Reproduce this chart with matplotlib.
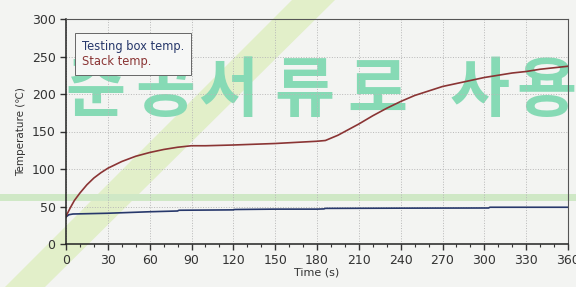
import matplotlib.pyplot as plt
from matplotlib.patches import Polygon, Rectangle
import numpy as np

# data
t_stack = [0, 3, 6, 10, 15, 20, 25, 30, 40, 50, 60, 70, 80, 90, 100, 120, 150, 170, 180, 186,
           195, 200, 210, 220, 230, 240, 250, 260, 270, 280, 290, 300, 310, 320, 330, 340, 350, 360]
stack = [37, 48, 58, 68, 79, 88, 95, 101, 110, 117, 122, 126, 129, 131, 131, 132, 134, 136, 137, 138,
         145, 150, 160, 171, 181, 190, 198, 204, 210, 214, 218, 222, 225, 228, 230, 233, 235, 237]

t_box = [0, 2, 5, 30, 60, 80, 81, 120, 121, 150, 180, 185, 186, 240, 300, 303, 304, 360]
box = [36, 39, 40, 41, 43, 44, 45, 45.5, 46, 46.5, 46.5, 46.8, 47.5, 47.8, 48, 48, 49, 49]

x_ticks = list(range(0, 361, 30))
y_ticks = list(range(0, 301, 50))

stamp = u'준공서류로 사용'

bg = '#f3f4f2'
fig = plt.figure(figsize=(5.76, 2.87), dpi=100, facecolor=bg)

# scan watermark behind the chart
fig.patches.append(Polygon([(5 / 576, 0), (45 / 576, 0), (335 / 576, 1), (292 / 576, 1)],
                           closed=True, transform=fig.transFigure, facecolor='#e2efc9',
                           edgecolor='none', zorder=-2))
fig.patches.append(Rectangle((0, 1 - 201 / 287), 1, 7 / 287, transform=fig.transFigure,
                             facecolor='#cfe8c6', edgecolor='none', zorder=-2))
stamp_x = [95, 165, 228, 304, 377, None, 480, 546]
for ch, xpos in zip(stamp, stamp_x):
    if xpos is None:
        continue
    fig.text(xpos / 576, 1 - 91 / 287, ch, fontsize=47, color='#86dab5',
             family=['Noto Sans CJK KR', 'DejaVu Sans'], fontweight='bold',
             ha='center', va='center', zorder=-1)

ax = fig.add_axes([66 / 576, 43 / 287, 502 / 576, 225 / 287])
ax.set_facecolor('none')

ax.plot(t_box, box, color='#27386b', linewidth=1.2, label='Testing box temp.')
ax.plot(t_stack, stack, color='#8a3434', linewidth=1.2, label='Stack temp.')

ax.set_xlim(0, 360)
ax.set_ylim(0, 300)
ax.set_xticks(x_ticks)
ax.set_xticks(range(0, 361, 10), minor=True)
ax.set_yticks(y_ticks)
ax.grid(True, linestyle=':', color='#b8b8b8', linewidth=0.7)

ax.tick_params(labelsize=9, colors='#333333', length=4, width=1, direction='out')
ax.tick_params(axis='x', which='minor', length=2.5, width=0.8, color='#333333')
for s in ['left', 'bottom']:
    ax.spines[s].set_color('#222222')
    ax.spines[s].set_linewidth(1.1)
for s in ['top', 'right']:
    ax.spines[s].set_color('#555555')
    ax.spines[s].set_linewidth(0.8)

ax.set_xlabel('Time (s)', fontsize=8, color='#333333', labelpad=0)
ax.set_ylabel(u'Temperature (℃)', fontsize=7.5, color='#333333', labelpad=4)

leg = ax.legend(loc='upper left', bbox_to_anchor=(0.006, 0.965), handlelength=0,
                handletextpad=0, fontsize=8.3, fancybox=False, framealpha=1,
                facecolor='#f6f7f6', edgecolor='#666666', borderpad=0.6, labelspacing=0.25)
leg.get_frame().set_linewidth(0.7)
for line, txt in zip(leg.get_lines(), leg.get_texts()):
    line.set_visible(False)
    txt.set_color(line.get_color())

plt.savefig('out.png', dpi=100, facecolor=bg)
